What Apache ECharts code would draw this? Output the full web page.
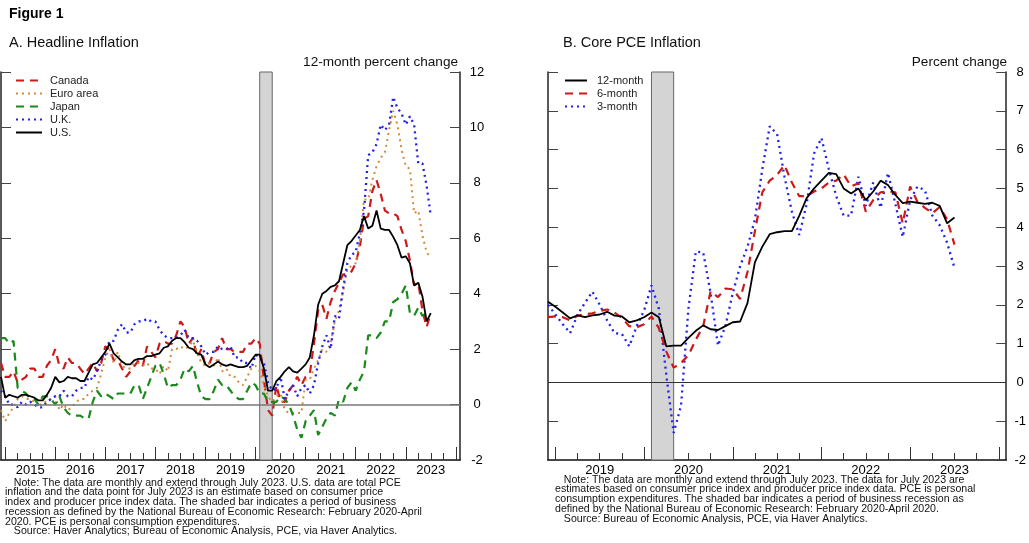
<!DOCTYPE html>
<html>
<head>
<meta charset="utf-8">
<script src="https://cdn.jsdelivr.net/npm/echarts@6/dist/echarts.min.js"></script>
<style>
  html, body { margin: 0; padding: 0; background: #fff; }
  #chart { width: 1029px; height: 543px; }
</style>
</head>
<body>
<div id="chart"></div>
<script>
// ---- Panel A: headline inflation, 12-month percent change, monthly from Dec 2014 ----
const headlineStart = [2014, 12];
const canada = [1.5,
  1.0,1.0,1.2,0.8,0.9,1.0,1.3,1.3,1.0,1.0,1.4,1.6,
  2.0,1.4,1.3,1.7,1.5,1.5,1.3,1.1,1.3,1.5,1.2,1.5,
  2.1,2.0,1.6,1.6,1.3,1.0,1.2,1.4,1.6,1.4,2.1,1.9,
  1.7,2.2,2.3,2.2,2.2,2.5,3.0,2.8,2.2,2.4,1.7,2.0,
  1.4,1.5,1.9,2.0,2.4,2.0,2.0,1.9,1.9,1.9,2.2,2.2,
  2.4,2.2,0.9,-0.2,-0.4,0.7,0.1,0.1,0.5,0.7,1.0,0.7,
  1.0,1.1,2.2,3.4,3.6,3.1,3.7,4.1,4.4,4.7,4.7,4.8,
  5.1,5.7,6.7,6.8,7.7,8.1,7.6,7.0,6.9,6.9,6.8,6.3,
  5.9,5.2,4.3,4.4,3.4,2.8,3.3];
const euroArea = [-0.2,
  -0.6,-0.3,-0.1,0.2,0.3,0.2,0.2,0.1,-0.1,0.1,0.1,0.2,
  0.3,-0.2,0.0,-0.2,-0.1,0.1,0.2,0.2,0.4,0.5,0.6,1.1,
  1.7,2.0,1.5,1.9,1.4,1.3,1.3,1.5,1.5,1.4,1.5,1.3,
  1.3,1.1,1.4,1.2,2.0,2.0,2.1,2.0,2.1,2.3,1.9,1.5,
  1.4,1.5,1.4,1.7,1.2,1.3,1.0,1.0,0.8,0.7,1.0,1.3,
  1.4,1.2,0.7,0.3,0.1,0.3,0.4,-0.2,-0.3,-0.3,-0.3,-0.3,
  0.9,0.9,1.3,1.6,2.0,1.9,2.2,3.0,3.4,4.1,4.9,5.0,
  5.1,5.9,7.4,7.4,8.1,8.6,8.9,9.1,9.9,10.6,10.1,9.2,
  8.6,8.5,6.9,7.0,6.1,5.5,5.3];
const japan = [2.4,
  2.4,2.2,2.3,0.6,0.5,0.4,0.2,0.2,0.0,0.3,0.3,0.2,
  0.0,0.3,-0.1,-0.3,-0.4,-0.4,-0.4,-0.5,-0.5,0.1,0.5,0.3,
  0.4,0.3,0.2,0.4,0.4,0.4,0.4,0.7,0.7,0.2,0.6,1.0,
  1.4,1.5,1.1,0.6,0.7,0.7,0.9,1.3,1.2,1.4,0.8,0.3,
  0.2,0.2,0.5,0.9,0.7,0.7,0.5,0.3,0.2,0.2,0.5,0.8,
  0.7,0.4,0.4,0.1,0.1,0.1,0.3,0.2,0.0,-0.4,-0.9,-1.2,
  -0.6,-0.4,-0.2,-1.1,-0.8,-0.5,-0.3,-0.4,0.2,0.1,0.6,0.8,
  0.5,0.9,1.2,2.5,2.5,2.4,2.6,3.0,3.0,3.7,3.8,4.0,
  4.3,3.3,3.2,3.5,3.2,3.3,3.3];
const uk = [0.5,
  0.3,0.0,0.0,-0.1,0.1,0.0,0.1,0.0,-0.1,-0.1,0.1,0.2,
  0.3,0.3,0.5,0.3,0.3,0.5,0.6,0.6,1.0,0.9,1.2,1.6,
  1.8,2.3,2.3,2.7,2.9,2.6,2.6,2.9,3.0,3.0,3.1,3.0,
  3.0,2.7,2.5,2.4,2.4,2.4,2.5,2.7,2.4,2.4,2.3,2.1,
  1.8,1.9,1.9,2.1,2.0,2.0,2.1,1.7,1.7,1.5,1.5,1.3,
  1.8,1.7,1.5,0.8,0.5,0.6,1.0,0.2,0.5,0.7,0.3,0.6,
  0.7,0.4,0.7,1.5,2.1,2.5,2.0,3.2,3.1,4.2,5.1,5.4,
  5.5,6.2,7.0,9.0,9.1,9.4,10.1,9.9,10.1,11.1,10.7,10.5,
  10.1,10.4,10.1,8.7,8.7,7.9,6.8];
const us = [1.0,
  0.25,0.35,0.3,0.25,0.35,0.35,0.3,0.25,0.15,0.15,0.35,0.6,
  1.0,0.8,0.85,1.0,0.95,0.95,0.85,0.85,1.15,1.45,1.5,1.7,
  1.9,2.2,1.85,1.7,1.55,1.45,1.45,1.6,1.65,1.65,1.75,1.75,
  1.8,1.85,2.05,2.1,2.3,2.4,2.4,2.25,2.05,2.0,1.85,1.8,
  1.45,1.35,1.45,1.55,1.45,1.4,1.45,1.4,1.35,1.35,1.4,1.6,
  1.8,1.8,1.3,0.5,0.5,0.85,1.0,1.2,1.35,1.2,1.15,1.3,
  1.45,1.7,2.5,3.6,4.0,4.1,4.25,4.3,4.45,5.1,5.75,5.9,
  6.1,6.3,6.8,6.35,6.45,7.0,6.35,6.3,6.3,6.05,5.75,5.3,
  5.35,5.1,4.3,4.4,3.9,3.0,3.3];

// ---- Panel B: core PCE inflation, percent change, monthly from Dec 2018 ----
const coreStart = [2018, 12];
const core12 = [2.08,
  1.95,1.8,1.65,1.73,1.68,1.73,1.75,1.82,1.72,1.7,1.55,1.6,
  1.68,1.8,1.68,0.93,0.95,0.95,1.15,1.33,1.47,1.37,1.35,1.45,
  1.55,1.57,2.05,3.1,3.5,3.82,3.87,3.9,3.9,4.3,4.75,5.0,
  5.2,5.4,5.37,5.0,4.87,5.0,4.7,4.92,5.2,5.09,4.83,4.62,
  4.66,4.63,4.6,4.63,4.55,4.1,4.25];
const core6 = [1.68,
  1.7,1.68,1.6,1.72,1.76,1.78,1.84,1.88,1.8,1.66,1.45,1.42,
  1.5,1.7,1.4,0.8,0.38,0.5,0.7,1.1,1.45,2.35,2.2,2.42,
  2.4,2.15,2.85,3.9,4.9,5.2,5.35,5.6,5.15,4.8,4.8,4.92,
  5.0,5.15,5.2,5.36,5.05,5.13,4.4,4.7,4.9,4.92,4.9,4.1,
  5.05,4.65,4.5,4.36,4.52,4.2,3.55];
const core3 = [2.0,
  1.75,1.5,1.27,1.75,2.05,2.34,2.0,1.6,1.27,1.25,0.93,1.45,
  1.85,2.5,1.9,0.2,-1.3,-0.6,1.9,3.37,3.35,2.3,0.95,1.45,
  2.3,3.0,3.5,4.2,5.5,6.6,6.4,5.3,4.4,3.8,4.6,5.9,
  6.3,5.5,4.8,4.3,4.3,5.3,4.55,5.15,4.5,5.4,4.6,3.75,
  4.7,5.05,4.95,4.3,4.05,3.6,2.95];

// ---- Axis labels and tick values ----
const yearLabelsA = ['2015','2016','2017','2018','2019','2020','2021','2022','2023'];
const yearLabelsB = ['2019','2020','2021','2022','2023'];
const recession = [2020 + 1/12, 2020 + 4/12]; // February 2020 - April 2020

const FONT = '"Liberation Sans", Arial, Helvetica, sans-serif';

function toPoints(start, values) {
  return values.map((v, i) => [start[0] + (start[1] - 1 + i) / 12, v]);
}
function yearTicks(labels) {
  const first = +labels[0];
  const out = [];
  for (let y = first; y <= +labels[labels.length - 1] + 1; y++) out.push(y);
  return out;
}
function quarterTicks(labels) {
  const out = [];
  yearTicks(labels).forEach((y, i, arr) => {
    if (i < arr.length - 1) out.push(y + 0.25, y + 0.5, y + 0.75);
  });
  return out;
}
function labelSpots(labels) { return labels.map(l => +l + 0.5); }

const A_MIN = 2014 + 11/12, A_MAX = 2024 + 1/12;
const B_MIN = 2018 + 11/12, B_MAX = 2024 + 1/12;

function xAxes(grid, min, max, labels) {
  return [
    {
      gridIndex: grid, type: 'value', min, max, position: 'bottom',
      axisLine: { show: true, onZero: false, lineStyle: { color: '#111', width: 1.6 } },
      axisTick: { show: true, inside: true, length: 7, customValues: quarterTicks(labels),
                  lineStyle: { color: '#333', width: 1 } },
      axisLabel: { show: true, customValues: labelSpots(labels), margin: 4,
                   formatter: v => labels[Math.round(v - 0.5) - +labels[0]],
                   fontSize: 13, color: '#000', fontFamily: FONT },
      splitLine: { show: false }
    },
    {
      gridIndex: grid, type: 'value', min, max, position: 'bottom', offset: 0,
      axisLine: { show: false, onZero: false },
      axisTick: { show: true, inside: true, length: 13, customValues: yearTicks(labels),
                  lineStyle: { color: '#333', width: 1 } },
      axisLabel: { show: false },
      splitLine: { show: false }
    }
  ];
}
function yAxes(grid, min, max, interval, margin) {
  const common = {
    gridIndex: grid, type: 'value', min, max, interval,
    axisLine: { show: true, onZero: false, lineStyle: { color: '#222', width: 1.5 } },
    axisTick: { show: true, inside: true, length: 10, lineStyle: { color: '#444', width: 1 } },
    splitLine: { show: false }
  };
  return [
    Object.assign({}, common, { position: 'right',
      axisLabel: { show: true, margin, align: 'center', fontSize: 13, color: '#000', fontFamily: FONT } }),
    Object.assign({}, common, { position: 'left', axisLabel: { show: false } })
  ];
}

function lineSeries(name, xi, yi, data, color, type, width, z) {
  return {
    name, type: 'line', xAxisIndex: xi, yAxisIndex: yi, data,
    showSymbol: false, symbol: 'none', animation: false, z: z || 3,
    lineStyle: { color, width, type, cap: 'butt' },
    itemStyle: { color }
  };
}
function frameSeries(xi, yi, zeroColor, zeroWidth) {
  return {
    type: 'line', xAxisIndex: xi, yAxisIndex: yi, data: [], z: 1, silent: true, animation: false,
    markArea: { silent: true,
      itemStyle: { color: '#d4d4d4', borderColor: '#666', borderWidth: 1 },
      data: [[{ xAxis: recession[0] }, { xAxis: recession[1] }]] },
    markLine: { silent: true, symbol: 'none', label: { show: false },
      lineStyle: { color: zeroColor, width: zeroWidth, type: 'solid' },
      data: [{ yAxis: 0 }] }
  };
}

const DASH = [8, 6];
const DOT = [2, 4];
const NOTE_STYLE = { fontSize: 10.6, lineHeight: 9.7, fontWeight: 'normal', color: '#111', fontFamily: FONT };
const HEAD_STYLE = { fontSize: 14.5, fontWeight: 'normal', color: '#111', fontFamily: FONT };
const UNIT_STYLE = { fontSize: 13.6, fontWeight: 'normal', color: '#111', fontFamily: FONT };
const LEGEND_MARK = { color: 'rgba(0,0,0,0)', borderWidth: 0, opacity: 0 };

const chart = echarts.init(document.getElementById('chart'), null, { renderer: 'canvas' });
chart.setOption({
  animation: false,
  backgroundColor: '#fff',
  textStyle: { fontFamily: FONT },
  title: [
    { text: 'Figure 1', left: 9, top: 7, padding: 0,
      textStyle: { fontSize: 14, fontWeight: 'bold', color: '#000', fontFamily: FONT } },
    { text: 'A. Headline Inflation', left: 9, top: 35, padding: 0, textStyle: HEAD_STYLE },
    { text: 'B. Core PCE Inflation', left: 563, top: 35, padding: 0, textStyle: HEAD_STYLE },
    { text: '12-month percent change', right: 571, top: 55, padding: 0, textStyle: UNIT_STYLE },
    { text: 'Percent change', right: 22, top: 55, padding: 0, textStyle: UNIT_STYLE },
    { text: '   Note: The data are monthly and extend through July 2023. U.S. data are total PCE\n' +
            'inflation and the data point for July 2023 is an estimate based on consumer price\n' +
            'index and producer price index data. The shaded bar indicates a period of business\n' +
            'recession as defined by the National Bureau of Economic Research: February 2020-April\n' +
            '2020. PCE is personal consumption expenditures.\n' +
            '   Source: Haver Analytics; Bureau of Economic Analysis, PCE, via Haver Analytics.',
      left: 5, top: 478, padding: 0, textStyle: NOTE_STYLE },
    { text: '   Note: The data are monthly and extend through July 2023. The data for July 2023 are\n' +
            'estimates based on consumer price index and producer price index data. PCE is personal\n' +
            'consumption expenditures. The shaded bar indicates a period of business recession as\n' +
            'defined by the National Bureau of Economic Research: February 2020-April 2020.\n' +
            '   Source: Bureau of Economic Analysis, PCE, via Haver Analytics.',
      left: 555, top: 475, padding: 0, textStyle: NOTE_STYLE }
  ],
  legend: [
    { data: ['Canada', 'Euro area', 'Japan', 'U.K.', 'U.S.'],
      orient: 'vertical', left: 15, top: 75, padding: 0, itemGap: 2,
      itemWidth: 26, itemHeight: 12, selectedMode: false, itemStyle: LEGEND_MARK,
      textStyle: { fontSize: 11, color: '#222', fontFamily: FONT, padding: [0, 0, 0, 3] } },
    { data: ['12-month', '6-month', '3-month'],
      orient: 'vertical', left: 564, top: 75, padding: 0, itemGap: 2,
      itemWidth: 22, itemHeight: 12, selectedMode: false, itemStyle: LEGEND_MARK,
      textStyle: { fontSize: 11, color: '#222', fontFamily: FONT, padding: [0, 0, 0, 5] } }
  ],
  grid: [
    { left: 1, right: 569, top: 72, bottom: 83, containLabel: false },
    { left: 548, right: 20.3, top: 72, bottom: 83, containLabel: false }
  ],
  xAxis: [].concat(xAxes(0, A_MIN, A_MAX, yearLabelsA), xAxes(1, B_MIN, B_MAX, yearLabelsB)),
  yAxis: [].concat(yAxes(0, -2, 12, 2, 17), yAxes(1, -2, 8, 1, 14)),
  series: [
    frameSeries(0, 0, '#777', 1.5),
    lineSeries('Canada', 0, 0, toPoints(headlineStart, canada), '#cc1a1a', DASH, 2.2),
    lineSeries('Euro area', 0, 0, toPoints(headlineStart, euroArea), '#d48a3c', DOT, 2),
    lineSeries('Japan', 0, 0, toPoints(headlineStart, japan), '#1a8a1a', DASH, 2.2),
    lineSeries('U.K.', 0, 0, toPoints(headlineStart, uk), '#1f1fee', DOT, 2.3),
    lineSeries('U.S.', 0, 0, toPoints(headlineStart, us), '#000', 'solid', 1.8, 4),
    frameSeries(2, 2, '#333', 1),
    lineSeries('3-month', 2, 2, toPoints(coreStart, core3), '#1f1fee', DOT, 2.3),
    lineSeries('6-month', 2, 2, toPoints(coreStart, core6), '#cc1a1a', DASH, 2.2),
    lineSeries('12-month', 2, 2, toPoints(coreStart, core12), '#000', 'solid', 1.8, 4)
  ]
});
</script>
</body>
</html>
